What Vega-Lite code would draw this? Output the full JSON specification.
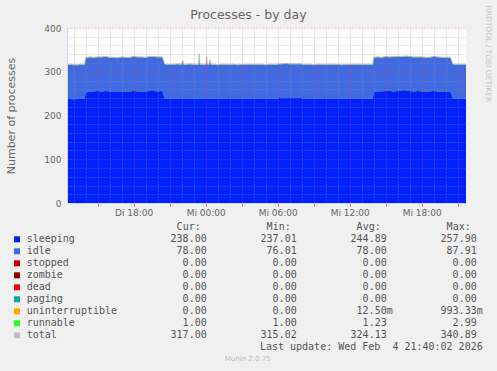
{
  "$schema": "https://vega.github.io/schema/vega-lite/v6.json",
  "width": 399,
  "height": 175,
  "autosize": {"type": "none"},
  "padding": {"left": 67, "top": 28, "right": 31, "bottom": 168},
  "background": "#f0f0f0",
  "config": {
    "view": {"fill": "#ffffff", "stroke": null}
  },
  "title": {
    "text": "Processes - by day",
    "font": "DejaVu Sans",
    "fontSize": 12.5,
    "fontWeight": "normal",
    "color": "#666666",
    "anchor": "middle",
    "frame": "bounds",
    "dy": 20
  },
  "datasets": {
    "proc": [
      {"t": "2026-02-03T12:27:00Z", "sleeping": 238, "idle": 78, "runnable": 1, "total": 317},
      {"t": "2026-02-03T12:40:00Z", "sleeping": 238, "idle": 78, "runnable": 1, "total": 317},
      {"t": "2026-02-03T13:00:00Z", "sleeping": 237, "idle": 78, "runnable": 1, "total": 316},
      {"t": "2026-02-03T13:20:00Z", "sleeping": 238, "idle": 77, "runnable": 1, "total": 316},
      {"t": "2026-02-03T13:40:00Z", "sleeping": 238, "idle": 78, "runnable": 1, "total": 317},
      {"t": "2026-02-03T13:55:00Z", "sleeping": 238, "idle": 78, "runnable": 1, "total": 317},
      {"t": "2026-02-03T14:00:00Z", "sleeping": 253, "idle": 78, "runnable": 1, "total": 332},
      {"t": "2026-02-03T14:20:00Z", "sleeping": 254, "idle": 78, "runnable": 2, "total": 334},
      {"t": "2026-02-03T14:40:00Z", "sleeping": 255, "idle": 77, "runnable": 1, "total": 333},
      {"t": "2026-02-03T15:00:00Z", "sleeping": 256, "idle": 77, "runnable": 1, "total": 334},
      {"t": "2026-02-03T15:20:00Z", "sleeping": 255, "idle": 78, "runnable": 1, "total": 334},
      {"t": "2026-02-03T15:40:00Z", "sleeping": 256, "idle": 78, "runnable": 1, "total": 335},
      {"t": "2026-02-03T16:00:00Z", "sleeping": 255, "idle": 77, "runnable": 1, "total": 333},
      {"t": "2026-02-03T16:20:00Z", "sleeping": 254, "idle": 78, "runnable": 1, "total": 333},
      {"t": "2026-02-03T16:40:00Z", "sleeping": 254, "idle": 77, "runnable": 1, "total": 332},
      {"t": "2026-02-03T17:00:00Z", "sleeping": 255, "idle": 78, "runnable": 1, "total": 334},
      {"t": "2026-02-03T17:20:00Z", "sleeping": 254, "idle": 78, "runnable": 1, "total": 333},
      {"t": "2026-02-03T17:40:00Z", "sleeping": 255, "idle": 77, "runnable": 1, "total": 333},
      {"t": "2026-02-03T18:00:00Z", "sleeping": 256, "idle": 78, "runnable": 1, "total": 335},
      {"t": "2026-02-03T18:20:00Z", "sleeping": 255, "idle": 78, "runnable": 1, "total": 334},
      {"t": "2026-02-03T18:40:00Z", "sleeping": 254, "idle": 78, "runnable": 2, "total": 334},
      {"t": "2026-02-03T19:00:00Z", "sleeping": 255, "idle": 77, "runnable": 1, "total": 333},
      {"t": "2026-02-03T19:20:00Z", "sleeping": 256, "idle": 78, "runnable": 1, "total": 335},
      {"t": "2026-02-03T19:40:00Z", "sleeping": 256, "idle": 78, "runnable": 1, "total": 335},
      {"t": "2026-02-03T20:00:00Z", "sleeping": 255, "idle": 78, "runnable": 1, "total": 334},
      {"t": "2026-02-03T20:20:00Z", "sleeping": 256, "idle": 77, "runnable": 1, "total": 334},
      {"t": "2026-02-03T20:25:00Z", "sleeping": 254, "idle": 77, "runnable": 1, "total": 332},
      {"t": "2026-02-03T20:35:00Z", "sleeping": 239, "idle": 78, "runnable": 1, "total": 318},
      {"t": "2026-02-03T20:40:00Z", "sleeping": 238, "idle": 78, "runnable": 1, "total": 317},
      {"t": "2026-02-03T21:00:00Z", "sleeping": 238, "idle": 78, "runnable": 1, "total": 317},
      {"t": "2026-02-03T21:20:00Z", "sleeping": 238, "idle": 78, "runnable": 1, "total": 317},
      {"t": "2026-02-03T21:40:00Z", "sleeping": 238, "idle": 79, "runnable": 1, "total": 318},
      {"t": "2026-02-03T22:00:00Z", "sleeping": 238, "idle": 78, "runnable": 1, "total": 317},
      {"t": "2026-02-03T22:05:00Z", "sleeping": 240, "idle": 84, "runnable": 2, "total": 326},
      {"t": "2026-02-03T22:10:00Z", "sleeping": 238, "idle": 78, "runnable": 1, "total": 317},
      {"t": "2026-02-03T22:20:00Z", "sleeping": 238, "idle": 78, "runnable": 1, "total": 317},
      {"t": "2026-02-03T22:40:00Z", "sleeping": 239, "idle": 78, "runnable": 1, "total": 318},
      {"t": "2026-02-03T23:00:00Z", "sleeping": 238, "idle": 78, "runnable": 1, "total": 317},
      {"t": "2026-02-03T23:20:00Z", "sleeping": 238, "idle": 78, "runnable": 1, "total": 317},
      {"t": "2026-02-03T23:25:00Z", "sleeping": 238, "idle": 78, "runnable": 1, "total": 317},
      {"t": "2026-02-03T23:28:00Z", "sleeping": 250, "idle": 88, "runnable": 3, "total": 341},
      {"t": "2026-02-03T23:31:00Z", "sleeping": 238, "idle": 78, "runnable": 1, "total": 317},
      {"t": "2026-02-03T23:40:00Z", "sleeping": 238, "idle": 78, "runnable": 1, "total": 317},
      {"t": "2026-02-04T00:00:00Z", "sleeping": 238, "idle": 78, "runnable": 1, "total": 317},
      {"t": "2026-02-04T00:02:00Z", "sleeping": 238, "idle": 78, "runnable": 1, "total": 317},
      {"t": "2026-02-04T00:05:00Z", "sleeping": 243, "idle": 88, "runnable": 3, "total": 334},
      {"t": "2026-02-04T00:08:00Z", "sleeping": 238, "idle": 78, "runnable": 1, "total": 317},
      {"t": "2026-02-04T00:18:00Z", "sleeping": 238, "idle": 78, "runnable": 1, "total": 317},
      {"t": "2026-02-04T00:22:00Z", "sleeping": 240, "idle": 85, "runnable": 2, "total": 327},
      {"t": "2026-02-04T00:26:00Z", "sleeping": 238, "idle": 78, "runnable": 1, "total": 317},
      {"t": "2026-02-04T00:40:00Z", "sleeping": 238, "idle": 78, "runnable": 1, "total": 317},
      {"t": "2026-02-04T01:00:00Z", "sleeping": 238, "idle": 77, "runnable": 1, "total": 316},
      {"t": "2026-02-04T01:20:00Z", "sleeping": 238, "idle": 78, "runnable": 1, "total": 317},
      {"t": "2026-02-04T01:40:00Z", "sleeping": 238, "idle": 78, "runnable": 1, "total": 317},
      {"t": "2026-02-04T02:00:00Z", "sleeping": 238, "idle": 78, "runnable": 1, "total": 317},
      {"t": "2026-02-04T02:20:00Z", "sleeping": 238, "idle": 78, "runnable": 1, "total": 317},
      {"t": "2026-02-04T02:40:00Z", "sleeping": 238, "idle": 77, "runnable": 1, "total": 316},
      {"t": "2026-02-04T03:00:00Z", "sleeping": 238, "idle": 78, "runnable": 1, "total": 317},
      {"t": "2026-02-04T03:20:00Z", "sleeping": 238, "idle": 78, "runnable": 1, "total": 317},
      {"t": "2026-02-04T03:40:00Z", "sleeping": 238, "idle": 78, "runnable": 1, "total": 317},
      {"t": "2026-02-04T04:00:00Z", "sleeping": 238, "idle": 78, "runnable": 1, "total": 317},
      {"t": "2026-02-04T04:20:00Z", "sleeping": 238, "idle": 78, "runnable": 1, "total": 317},
      {"t": "2026-02-04T04:40:00Z", "sleeping": 238, "idle": 78, "runnable": 1, "total": 317},
      {"t": "2026-02-04T05:00:00Z", "sleeping": 238, "idle": 77, "runnable": 1, "total": 316},
      {"t": "2026-02-04T05:20:00Z", "sleeping": 238, "idle": 78, "runnable": 1, "total": 317},
      {"t": "2026-02-04T05:40:00Z", "sleeping": 238, "idle": 78, "runnable": 1, "total": 317},
      {"t": "2026-02-04T05:58:00Z", "sleeping": 238, "idle": 78, "runnable": 1, "total": 317},
      {"t": "2026-02-04T06:02:00Z", "sleeping": 240, "idle": 77, "runnable": 1, "total": 318},
      {"t": "2026-02-04T06:20:00Z", "sleeping": 240, "idle": 77, "runnable": 1, "total": 318},
      {"t": "2026-02-04T06:40:00Z", "sleeping": 240, "idle": 78, "runnable": 1, "total": 319},
      {"t": "2026-02-04T07:00:00Z", "sleeping": 240, "idle": 77, "runnable": 1, "total": 318},
      {"t": "2026-02-04T07:20:00Z", "sleeping": 240, "idle": 77, "runnable": 1, "total": 318},
      {"t": "2026-02-04T07:40:00Z", "sleeping": 240, "idle": 77, "runnable": 1, "total": 318},
      {"t": "2026-02-04T08:00:00Z", "sleeping": 240, "idle": 77, "runnable": 1, "total": 318},
      {"t": "2026-02-04T08:04:00Z", "sleeping": 238, "idle": 78, "runnable": 1, "total": 317},
      {"t": "2026-02-04T08:20:00Z", "sleeping": 238, "idle": 78, "runnable": 1, "total": 317},
      {"t": "2026-02-04T08:40:00Z", "sleeping": 238, "idle": 78, "runnable": 1, "total": 317},
      {"t": "2026-02-04T09:00:00Z", "sleeping": 238, "idle": 77, "runnable": 1, "total": 316},
      {"t": "2026-02-04T09:20:00Z", "sleeping": 238, "idle": 78, "runnable": 1, "total": 317},
      {"t": "2026-02-04T09:40:00Z", "sleeping": 238, "idle": 78, "runnable": 1, "total": 317},
      {"t": "2026-02-04T10:00:00Z", "sleeping": 238, "idle": 78, "runnable": 1, "total": 317},
      {"t": "2026-02-04T10:20:00Z", "sleeping": 238, "idle": 78, "runnable": 1, "total": 317},
      {"t": "2026-02-04T10:40:00Z", "sleeping": 238, "idle": 78, "runnable": 1, "total": 317},
      {"t": "2026-02-04T11:00:00Z", "sleeping": 238, "idle": 78, "runnable": 1, "total": 317},
      {"t": "2026-02-04T11:20:00Z", "sleeping": 238, "idle": 77, "runnable": 1, "total": 316},
      {"t": "2026-02-04T11:40:00Z", "sleeping": 238, "idle": 78, "runnable": 1, "total": 317},
      {"t": "2026-02-04T12:00:00Z", "sleeping": 238, "idle": 78, "runnable": 1, "total": 317},
      {"t": "2026-02-04T12:20:00Z", "sleeping": 238, "idle": 78, "runnable": 1, "total": 317},
      {"t": "2026-02-04T12:40:00Z", "sleeping": 238, "idle": 78, "runnable": 1, "total": 317},
      {"t": "2026-02-04T13:00:00Z", "sleeping": 238, "idle": 78, "runnable": 1, "total": 317},
      {"t": "2026-02-04T13:20:00Z", "sleeping": 238, "idle": 78, "runnable": 1, "total": 317},
      {"t": "2026-02-04T13:40:00Z", "sleeping": 238, "idle": 78, "runnable": 1, "total": 317},
      {"t": "2026-02-04T13:55:00Z", "sleeping": 238, "idle": 78, "runnable": 1, "total": 317},
      {"t": "2026-02-04T14:00:00Z", "sleeping": 254, "idle": 78, "runnable": 1, "total": 333},
      {"t": "2026-02-04T14:20:00Z", "sleeping": 255, "idle": 78, "runnable": 1, "total": 334},
      {"t": "2026-02-04T14:40:00Z", "sleeping": 255, "idle": 77, "runnable": 1, "total": 333},
      {"t": "2026-02-04T15:00:00Z", "sleeping": 256, "idle": 78, "runnable": 1, "total": 335},
      {"t": "2026-02-04T15:20:00Z", "sleeping": 256, "idle": 77, "runnable": 1, "total": 334},
      {"t": "2026-02-04T15:40:00Z", "sleeping": 255, "idle": 78, "runnable": 2, "total": 335},
      {"t": "2026-02-04T16:00:00Z", "sleeping": 256, "idle": 78, "runnable": 1, "total": 335},
      {"t": "2026-02-04T16:20:00Z", "sleeping": 257, "idle": 77, "runnable": 1, "total": 335},
      {"t": "2026-02-04T16:40:00Z", "sleeping": 258, "idle": 77, "runnable": 1, "total": 336},
      {"t": "2026-02-04T17:00:00Z", "sleeping": 256, "idle": 78, "runnable": 1, "total": 335},
      {"t": "2026-02-04T17:20:00Z", "sleeping": 255, "idle": 78, "runnable": 1, "total": 334},
      {"t": "2026-02-04T17:40:00Z", "sleeping": 256, "idle": 77, "runnable": 1, "total": 334},
      {"t": "2026-02-04T18:00:00Z", "sleeping": 255, "idle": 78, "runnable": 1, "total": 334},
      {"t": "2026-02-04T18:20:00Z", "sleeping": 254, "idle": 78, "runnable": 1, "total": 333},
      {"t": "2026-02-04T18:40:00Z", "sleeping": 255, "idle": 77, "runnable": 1, "total": 333},
      {"t": "2026-02-04T19:00:00Z", "sleeping": 256, "idle": 78, "runnable": 1, "total": 335},
      {"t": "2026-02-04T19:20:00Z", "sleeping": 255, "idle": 78, "runnable": 1, "total": 334},
      {"t": "2026-02-04T19:40:00Z", "sleeping": 254, "idle": 78, "runnable": 1, "total": 333},
      {"t": "2026-02-04T20:00:00Z", "sleeping": 255, "idle": 77, "runnable": 1, "total": 333},
      {"t": "2026-02-04T20:20:00Z", "sleeping": 254, "idle": 78, "runnable": 1, "total": 333},
      {"t": "2026-02-04T20:25:00Z", "sleeping": 252, "idle": 78, "runnable": 1, "total": 331},
      {"t": "2026-02-04T20:35:00Z", "sleeping": 239, "idle": 78, "runnable": 1, "total": 318},
      {"t": "2026-02-04T20:40:00Z", "sleeping": 238, "idle": 78, "runnable": 1, "total": 317},
      {"t": "2026-02-04T21:00:00Z", "sleeping": 238, "idle": 78, "runnable": 1, "total": 317},
      {"t": "2026-02-04T21:20:00Z", "sleeping": 238, "idle": 78, "runnable": 1, "total": 317},
      {"t": "2026-02-04T21:41:00Z", "sleeping": 238, "idle": 78, "runnable": 1, "total": 317}
    ],
    "legend": [
      {"series": "sleeping", "cur": "238.00", "min": "237.01", "avg": "244.89", "max": "257.90"},
      {"series": "idle", "cur": "78.00", "min": "76.01", "avg": "78.00", "max": "87.91"},
      {"series": "stopped", "cur": "0.00", "min": "0.00", "avg": "0.00", "max": "0.00"},
      {"series": "zombie", "cur": "0.00", "min": "0.00", "avg": "0.00", "max": "0.00"},
      {"series": "dead", "cur": "0.00", "min": "0.00", "avg": "0.00", "max": "0.00"},
      {"series": "paging", "cur": "0.00", "min": "0.00", "avg": "0.00", "max": "0.00"},
      {"series": "uninterruptible", "cur": "0.00", "min": "0.00", "avg": "12.50m", "max": "993.33m"},
      {"series": "runnable", "cur": "1.00", "min": "1.00", "avg": "1.23", "max": "2.99"},
      {"series": "total", "cur": "317.00", "min": "315.02", "avg": "324.13", "max": "340.89"}
    ]
  },
  "layer": [
    {
      "data": {"name": "proc"},
      "mark": {"type": "area", "color": "#22ff22", "clip": true},
      "encoding": {
        "x": {
          "field": "t", "type": "temporal",
          "scale": {"type": "utc", "nice": false},
          "axis": {
            "title": null,
            "orient": "bottom",
            "tickCount": 33,
            "grid": true,
            "gridDash": [1, 2],
            "gridColor": {"condition": {"test": "utchours(datum.value) % 3 === 0", "value": "#de4f4f"}, "value": "#8f8f8f"},
            "gridOpacity": {"condition": {"test": "utchours(datum.value) % 3 === 0", "value": 0.55}, "value": 0.6},
            "tickColor": {"condition": {"test": "utchours(datum.value) % 3 === 0", "value": "#de4f4f"}, "value": "#8f8f8f"},
            "tickOpacity": {"condition": {"test": "utchours(datum.value) % 3 === 0", "value": 0.7}, "value": 0},
            "tickSize": 3,
            "labelExpr": "utchours(datum.value) % 6 === 0 ? (utcday(datum.value) === 2 ? 'Di ' : 'Mi ') + utcFormat(datum.value, '%H:%M') : ''",
            "labelOverlap": false,
            "labelFlush": false,
            "labelFont": "DejaVu Sans",
            "labelFontSize": 9,
            "labelColor": "#666666",
            "labelPadding": 2,
            "domainColor": "#cfd6f8",
            "zindex": 1
          }
        },
        "y": {
          "field": "total", "type": "quantitative",
          "scale": {"domain": [0, 400], "nice": false},
          "axis": {
            "orient": "left",
            "title": "Number of processes",
            "values": [0, 20, 40, 60, 80, 100, 120, 140, 160, 180, 200, 220, 240, 260, 280, 300, 320, 340, 360, 380, 400],
            "grid": true,
            "gridDash": [1, 2],
            "gridColor": {"condition": {"test": "datum.value % 100 === 0", "value": "#de4f4f"}, "value": "#8f8f8f"},
            "gridOpacity": {"condition": {"test": "datum.value % 100 === 0", "value": 0.55}, "value": 0.6},
            "ticks": false,
            "tickSize": 0,
            "labelExpr": "datum.value % 100 === 0 ? datum.label : ''",
            "labelFont": "DejaVu Sans",
            "labelFontSize": 9,
            "labelColor": "#666666",
            "labelPadding": 6,
            "labelOverlap": false,
            "domainColor": "#cfd6f8",
            "titleFont": "DejaVu Sans",
            "titleFontSize": 11,
            "titleFontWeight": "normal",
            "titleColor": "#666666",
            "titlePadding": 27,
            "zindex": 1
          }
        }
      }
    },
    {
      "data": {"name": "proc"},
      "transform": [{"fold": ["sleeping", "idle"], "as": ["series", "value"]}],
      "mark": {"type": "area", "clip": true},
      "encoding": {
        "x": {"field": "t", "type": "temporal", "scale": {"type": "utc", "nice": false}, "axis": null},
        "y": {"field": "value", "type": "quantitative", "stack": "zero", "scale": {"domain": [0, 400], "nice": false}, "axis": null},
        "color": {
          "field": "series", "type": "nominal",
          "scale": {
            "domain": ["sleeping", "idle", "stopped", "zombie", "dead", "paging", "uninterruptible", "runnable", "total"],
            "range": ["#0022ff", "#4169e1", "#cc0000", "#990000", "#ff0000", "#00aaaa", "#ffa500", "#22ff22", "#c0c0c0"]
          },
          "legend": null
        },
        "order": {"field": "series", "sort": "descending"}
      }
    },
    {
      "data": {"name": "proc"},
      "mark": {"type": "line", "color": "#b8b8b8", "strokeWidth": 1, "clip": true},
      "encoding": {
        "x": {"field": "t", "type": "temporal", "scale": {"type": "utc", "nice": false}, "axis": null},
        "y": {
          "field": "total", "type": "quantitative",
          "scale": {"domain": [0, 400], "nice": false},
          "axis": {
            "orient": "right",
            "title": "RRDTOOL / TOBI OETIKER",
            "labels": false, "ticks": false, "domain": false, "grid": false,
            "titleAngle": 90,
            "titleFont": "DejaVu Sans",
            "titleFontSize": 7.5,
            "titleFontWeight": "normal",
            "titleColor": "#c4c4c4",
            "titleAlign": "left",
            "titleBaseline": "middle",
            "titleX": 21,
            "titleY": -23
          }
        }
      }
    },
    {
      "data": {"name": "legend"},
      "mark": {"type": "square", "size": 36, "opacity": 1, "xOffset": -9.7},
      "encoding": {
        "x": {"datum": "label", "type": "nominal", "scale": {"type": "point", "domain": ["label", "gap", "cur", "min", "avg", "max"], "range": [-40.3, 409.7], "padding": 0}, "axis": null},
        "y": {"field": "series", "type": "nominal", "scale": {"type": "point", "domain": ["header", "sleeping", "idle", "stopped", "zombie", "dead", "paging", "uninterruptible", "runnable", "total", "update", "footer"], "range": [199.3, 331.3], "padding": 0}, "axis": null},
        "color": {"field": "series", "type": "nominal", "legend": null}
      }
    },
    {
      "data": {"name": "legend"},
      "mark": {"type": "text", "align": "left", "baseline": "middle", "font": "DejaVu Sans Mono", "fontSize": 10, "color": "#555555"},
      "encoding": {
        "x": {"datum": "label", "type": "nominal", "scale": {"type": "point", "domain": ["label", "gap", "cur", "min", "avg", "max"], "range": [-40.3, 409.7], "padding": 0}, "axis": null},
        "y": {"field": "series", "type": "nominal", "scale": {"type": "point", "domain": ["header", "sleeping", "idle", "stopped", "zombie", "dead", "paging", "uninterruptible", "runnable", "total", "update", "footer"], "range": [199.3, 331.3], "padding": 0}, "axis": null},
        "text": {"field": "series"}
      }
    },
    {
      "data": {"name": "legend"},
      "transform": [{"fold": ["cur", "min", "avg", "max"], "as": ["key", "value"]}, {"filter": "indexof(datum.value, 'm') < 0"}],
      "mark": {"type": "text", "align": "right", "baseline": "middle", "font": "DejaVu Sans Mono", "fontSize": 10, "color": "#555555"},
      "encoding": {
        "x": {"field": "key", "type": "nominal", "scale": {"type": "point", "domain": ["label", "gap", "cur", "min", "avg", "max"], "range": [-40.3, 409.7], "padding": 0}, "axis": null},
        "y": {"field": "series", "type": "nominal", "scale": {"type": "point", "domain": ["header", "sleeping", "idle", "stopped", "zombie", "dead", "paging", "uninterruptible", "runnable", "total", "update", "footer"], "range": [199.3, 331.3], "padding": 0}, "axis": null},
        "text": {"field": "value"}
      }
    },
    {
      "data": {"name": "legend"},
      "transform": [{"fold": ["cur", "min", "avg", "max"], "as": ["key", "value"]}, {"filter": "indexof(datum.value, 'm') >= 0"}],
      "mark": {"type": "text", "align": "right", "baseline": "middle", "font": "DejaVu Sans Mono", "fontSize": 10, "color": "#555555", "dx": 6},
      "encoding": {
        "x": {"field": "key", "type": "nominal", "scale": {"type": "point", "domain": ["label", "gap", "cur", "min", "avg", "max"], "range": [-40.3, 409.7], "padding": 0}, "axis": null},
        "y": {"field": "series", "type": "nominal", "scale": {"type": "point", "domain": ["header", "sleeping", "idle", "stopped", "zombie", "dead", "paging", "uninterruptible", "runnable", "total", "update", "footer"], "range": [199.3, 331.3], "padding": 0}, "axis": null},
        "text": {"field": "value"}
      }
    },
    {
      "data": {"values": [{"key": "cur", "head": "Cur:"}, {"key": "min", "head": "Min:"}, {"key": "avg", "head": "Avg:"}, {"key": "max", "head": "Max:"}]},
      "mark": {"type": "text", "align": "right", "baseline": "middle", "font": "DejaVu Sans Mono", "fontSize": 10, "color": "#555555", "dx": -6},
      "encoding": {
        "x": {"field": "key", "type": "nominal", "scale": {"type": "point", "domain": ["label", "gap", "cur", "min", "avg", "max"], "range": [-40.3, 409.7], "padding": 0}, "axis": null},
        "y": {"datum": "header", "type": "nominal", "scale": {"type": "point", "domain": ["header", "sleeping", "idle", "stopped", "zombie", "dead", "paging", "uninterruptible", "runnable", "total", "update", "footer"], "range": [199.3, 331.3], "padding": 0}, "axis": null},
        "text": {"field": "head"}
      }
    },
    {
      "data": {"values": [{"row": "update", "text": "Last update: Wed Feb\u00a0 4 21:40:02 2026"}]},
      "mark": {"type": "text", "align": "right", "baseline": "middle", "font": "DejaVu Sans Mono", "fontSize": 10, "color": "#555555", "dx": 6},
      "encoding": {
        "x": {"datum": "max", "type": "nominal", "scale": {"type": "point", "domain": ["label", "gap", "cur", "min", "avg", "max"], "range": [-40.3, 409.7], "padding": 0}, "axis": null},
        "y": {"field": "row", "type": "nominal", "scale": {"type": "point", "domain": ["header", "sleeping", "idle", "stopped", "zombie", "dead", "paging", "uninterruptible", "runnable", "total", "update", "footer"], "range": [199.3, 331.3], "padding": 0}, "axis": null},
        "text": {"field": "text"}
      }
    },
    {
      "data": {"values": [{"row": "footer", "text": "Munin 2.0.75"}]},
      "mark": {"type": "text", "align": "center", "baseline": "middle", "font": "DejaVu Sans", "fontSize": 7, "color": "#bbbbbb", "dx": -49},
      "encoding": {
        "x": {"datum": "min", "type": "nominal", "scale": {"type": "point", "domain": ["label", "gap", "cur", "min", "avg", "max"], "range": [-40.3, 409.7], "padding": 0}, "axis": null},
        "y": {"field": "row", "type": "nominal", "scale": {"type": "point", "domain": ["header", "sleeping", "idle", "stopped", "zombie", "dead", "paging", "uninterruptible", "runnable", "total", "update", "footer"], "range": [199.3, 331.3], "padding": 0}, "axis": null},
        "text": {"field": "text"}
      }
    }
  ],
  "resolve": {"scale": {"x": "independent", "y": "independent"}}
}
